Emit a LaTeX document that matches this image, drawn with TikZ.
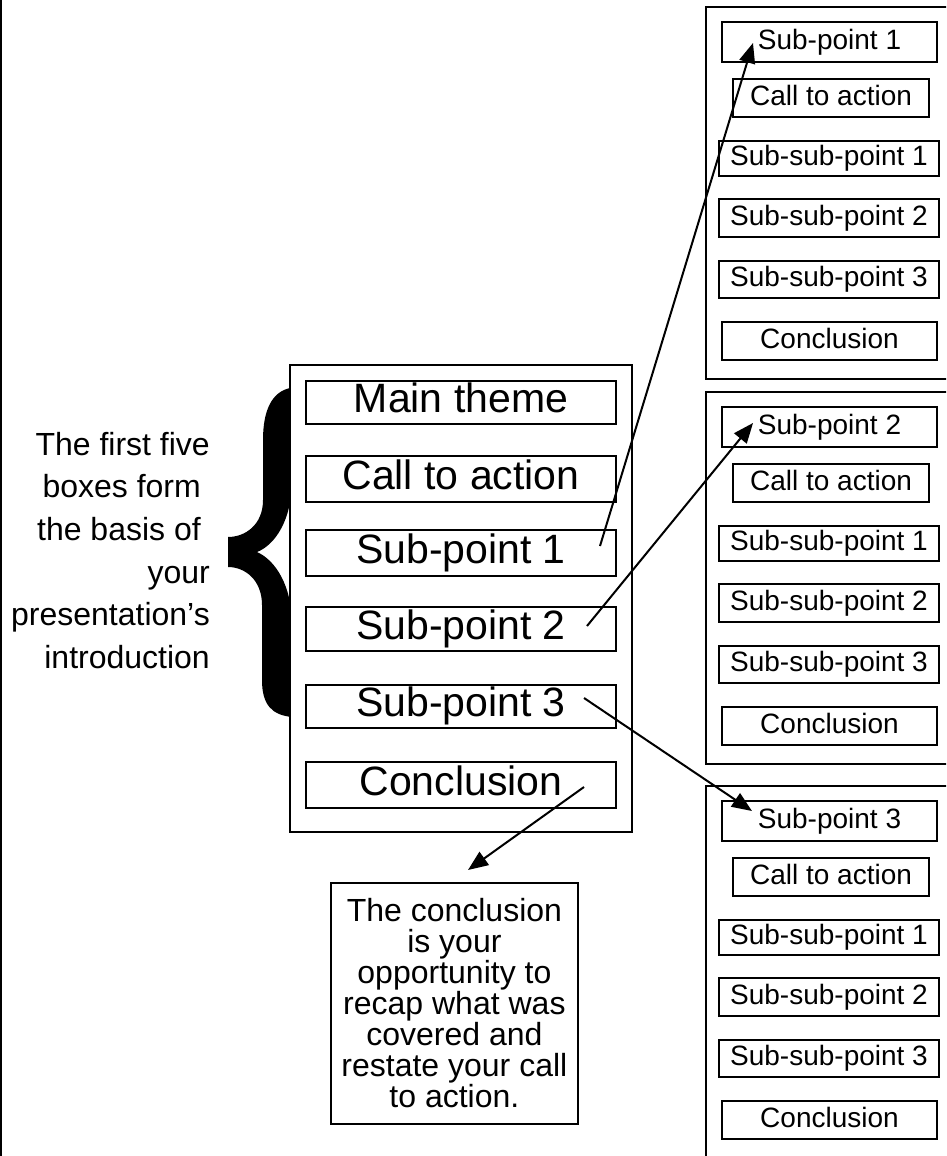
\documentclass[tikz,border=0pt]{standalone}
\usepackage{fontspec}
\setmainfont{Liberation Sans}
\usetikzlibrary{arrows.meta}
\begin{document}
\begin{tikzpicture}[x=1pt,y=-1pt,
  panel/.style={draw,line width=1.9pt},
  frame/.style={draw,fill=white,line width=1.8pt,inner sep=0pt,outer sep=0pt,anchor=north west},
  bigbox/.style={draw,line width=1.8pt,inner sep=0pt,outer sep=0pt,anchor=north west,
    font=\fontsize{41}{41}\selectfont,text height=29.5pt,text depth=8.6pt},
  smallbox/.style={draw,line width=1.8pt,inner sep=0pt,outer sep=0pt,anchor=north west,
    font=\fontsize{28}{28}\selectfont,text height=20.2pt,text depth=5.9pt},
  arr/.style={line width=2pt,-{Triangle[length=20pt,width=16pt]}}]
\useasboundingbox (0,0) rectangle (946,1156);
\clip (0,0) rectangle (946,1156);

% left page edge
\draw[line width=2pt] (1,-5) -- (1,1170);

% explanatory text on the left
\node[anchor=north east,align=right,inner sep=0pt,font=\fontsize{32}{42.6}\selectfont] (intro) at (210,432)
  {The first five\\boxes form\kern9pt\\the basis of\kern9pt\\your\\presentation’s\\introduction};

% curly brace
\fill (290,388) .. controls (272,392) and (263,410) .. (263,440) -- (263,500)
  .. controls (263,525) and (245,537) .. (228,537) -- (228,567)
  .. controls (245,567) and (262,580) .. (262,605) -- (262,680)
  .. controls (262,705) and (272,715) .. (292,717) -- (292,625)
  .. controls (292,585) and (275,560) .. (257,552)
  .. controls (275,545) and (292,520) .. (292,480) -- cycle;

% main outline
\node[frame,minimum width=342pt,minimum height=467pt] (mainframe) at (290,365) {};
\node[bigbox,minimum width=310pt,minimum height=43pt] (m1) at (306,381) {Main theme};
\node[bigbox,minimum width=310pt,minimum height=46pt] (m2) at (306,456) {Call to action};
\node[bigbox,minimum width=310pt,minimum height=46pt] (m3) at (306,530) {Sub-point 1};
\node[bigbox,minimum width=310pt,minimum height=44pt] (m4) at (306,607) {Sub-point 2};
\node[bigbox,minimum width=310pt,minimum height=43pt] (m5) at (306,685) {Sub-point 3};
\node[bigbox,minimum width=310pt,minimum height=46pt] (m6) at (306,762) {Conclusion};

% note about the conclusion
\node[draw,line width=1.8pt,inner sep=0pt,anchor=north west,minimum width=247pt,minimum height=241pt,
  align=center,font=\fontsize{32}{31}\selectfont] (note) at (330,882)
  {The conclusion\\is your\\opportunity to\\recap what was\\covered and\\restate your call\\to action.};

% detail panels on the right
\foreach \i/\top in {1/7,2/392,3/786}{
  \draw[panel] (706,\top) rectangle (990,\top+372);
  \node[smallbox,minimum width=215pt,minimum height=40pt] (p\i-1) at (722,\top+15) {Sub-point \i};
  \node[smallbox,minimum width=196pt,minimum height=38pt] (p\i-2) at (733,\top+72) {Call to action};
  \node[smallbox,minimum width=220pt,minimum height=35pt] (p\i-3) at (719,\top+134) {Sub-sub-point 1};
  \node[smallbox,minimum width=220pt,minimum height=38pt] (p\i-4) at (719,\top+192) {Sub-sub-point 2};
  \node[smallbox,minimum width=220pt,minimum height=37pt] (p\i-5) at (719,\top+254) {Sub-sub-point 3};
  \node[smallbox,minimum width=215pt,minimum height=38pt] (p\i-6) at (722,\top+315) {Conclusion};
}
\draw[panel] (706,1156) -- (706,1170);

% connector end points
\coordinate (s1) at (600,546);
\coordinate (e1) at (753,43);
\coordinate (s2) at (587,626);
\coordinate (e2) at (753,423);
\coordinate (s3) at (584,698);
\coordinate (e3) at (752,811);
\coordinate (s4) at (584,787);
\coordinate (e4) at (468,870);

\draw[arr] (s1) -- (e1);
\draw[arr] (s2) -- (e2);
\draw[arr] (s3) -- (e3);
\draw[arr] (s4) -- (e4);
\end{tikzpicture}
\end{document}
